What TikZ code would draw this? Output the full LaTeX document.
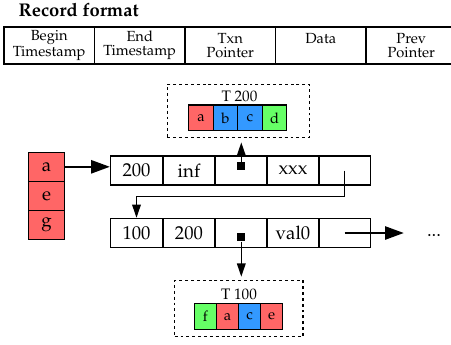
\documentclass[tikz,border=0pt]{standalone}
\usepackage[T1]{fontenc}
\usepackage{mathpazo}
\usetikzlibrary{arrows.meta}
\definecolor{cred}{HTML}{FF6666}
\definecolor{cblue}{HTML}{3399FF}
\definecolor{cgreen}{HTML}{66FF66}
\begin{document}
\begin{tikzpicture}[x=0.75pt,y=-0.75pt,
 hcell/.style={draw, line width=1pt, minimum width={90.5*0.75pt}, minimum height={37*0.75pt}, inner sep=0pt, align=center, font=\fontsize{11}{10.5}\selectfont},
 rcell/.style={draw, line width=1pt, minimum width={52.1*0.75pt}, minimum height={29*0.75pt}, inner sep=0pt, font=\fontsize{14}{16}\selectfont},
 scell/.style={draw, line width=1pt, fill=cred, minimum width={35.5*0.75pt}, minimum height={29*0.75pt}, inner sep=0pt, font=\fontsize{14}{16}\selectfont},
 tcell/.style={draw, line width=1pt, inner sep=0pt, font=\fontsize{11}{12}\selectfont},
 tbox/.style={draw, line width=1pt, dash pattern=on 2.2pt off 2.2pt, inner sep=0pt},
 tlabel/.style={font=\fontsize{11.4}{12}\selectfont, inner sep=0pt, anchor=base},
 sq/.style={fill, minimum size={8*0.75pt}, inner sep=0pt},
 big/.style={line width=1.1pt, -{Triangle[length=14pt,width=10pt]}},
 small/.style={line width=1.1pt, -{Triangle[length=10pt,width=6.5pt]}},
]
\useasboundingbox (0,0) rectangle (451,344);
% title
\node[anchor=base west, inner sep=0pt, font=\bfseries\fontsize{13.8}{16}\selectfont] (title) at (18.3,16.7) {Record format};
% header
\node[hcell] (h1) at (49.25,45.5) {Begin\\Timestamp};
\node[hcell] (h2) at (139.75,45.5) {End\\Timestamp};
\node[hcell] (h3) at (230.25,45.5) {Txn\\Pointer};
\node[hcell] (h4) at (320.75,45.5) {Data\\\mbox{}};
\node[hcell] (h5) at (411.25,45.5) {Prev\\Pointer};
% stack
\node[scell] (s1) at (46.5,166.8) {a};
\node[scell] (s2) at (46.5,195.8) {e};
\node[scell] (s3) at (46.5,224.8) {g};
% record 1
\node[rcell] (r11) at (136.5,170.5) {200};
\node[rcell] (r12) at (189,170.5) {inf};
\node[rcell] (r13) at (241.3,170.5) {};
\node[rcell] (r14) at (293,170.5) {xxx};
\node[rcell] (r15) at (344.7,170.5) {};
% record 2
\node[rcell] (r21) at (136.5,233) {100};
\node[rcell] (r22) at (189,233) {200};
\node[rcell] (r23) at (241.3,233) {};
\node[rcell] (r24) at (293,233) {val0};
\node[rcell] (r25) at (344.7,233) {};
% T 200
\node[tbox, minimum width={142*0.75pt}, minimum height={53.4*0.75pt}] (T2) at (238.3,111) {};
\node[tlabel] (T2l) at (239.5,101.7) {T 200};
\begin{scope}[every node/.style={tcell, minimum width={24.5*0.75pt}, minimum height={25.7*0.75pt}}]
\node[fill=cred] (t2a) at (201,117.8) {a};
\node[fill=cblue] (t2b) at (225.5,117.8) {b};
\node[fill=cblue] (t2c) at (250,117.8) {c};
\node[fill=cgreen] (t2d) at (274.5,117.8) {d};
\end{scope}
% T 100
\node[tbox, minimum width={128.3*0.75pt}, minimum height={56*0.75pt}] (T1) at (238.8,308.7) {};
\node[tlabel] (T1l) at (239,299) {T 100};
\begin{scope}[every node/.style={tcell, minimum width={22.1*0.75pt}, minimum height={26.4*0.75pt}}]
\node[fill=cgreen] (t1f) at (205.3,316.5) {f};
\node[fill=cred] (t1a) at (227.5,316.5) {a};
\node[fill=cblue] (t1c) at (249.6,316.5) {c};
\node[fill=cred] (t1e) at (271.7,316.5) {e};
\end{scope}
% pointers
\node[sq, anchor=south] (p1) at (r13.center) {};
\node[sq, anchor=north] (p2) at (r23.center) {};
\draw[small, shorten >=3pt] (p1.north) -- (p1.north |- T2.south);
\draw[small, shorten >=2.5pt] (p2.south) -- (p2.south |- T1.north);
\draw[small] (r15.center) -- ++(0,26) -| (r21.north);
% dots
\node[font=\fontsize{14}{16}\selectfont, anchor=base, inner sep=0pt, minimum width={60*0.75pt}] (dots) at (434,236) {...};
\draw[big] (r25.center) -- (r25.center -| dots.west);
\draw[big] (s1.east) -- (s1.east -| r11.west);
\end{tikzpicture}
\end{document}
